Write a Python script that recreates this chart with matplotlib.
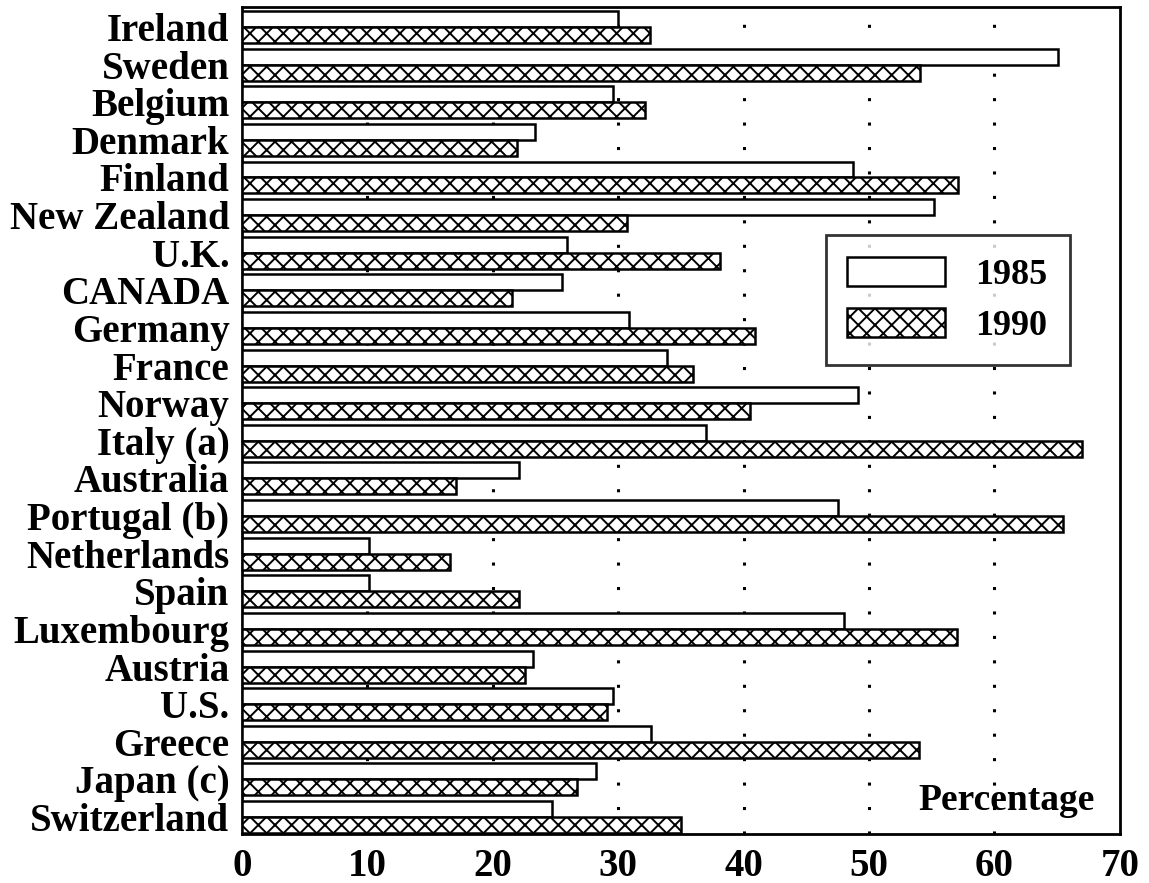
import numpy as np
import matplotlib
matplotlib.use('Agg')
import matplotlib.pyplot as plt

countries = ['Ireland', 'Sweden', 'Belgium', 'Denmark', 'Finland', 'New Zealand',
             'U.K.', 'CANADA', 'Germany', 'France', 'Norway', 'Italy (a)',
             'Australia', 'Portugal (b)', 'Netherlands', 'Spain', 'Luxembourg',
             'Austria', 'U.S.', 'Greece', 'Japan (c)', 'Switzerland']
y1985 = [30.0, 65.1, 29.6, 23.4, 48.7, 55.2, 25.9, 25.5, 30.9, 33.9, 49.1,
         37.0, 22.1, 47.5, 10.1, 10.1, 48.0, 23.2, 29.6, 32.6, 28.2, 24.7]
y1990 = [32.5, 54.1, 32.1, 21.9, 57.1, 30.7, 38.1, 21.5, 40.9, 36.0, 40.5,
         67.0, 17.1, 65.5, 16.6, 22.1, 57.0, 22.6, 29.1, 54.0, 26.7, 35.0]
series_labels = ['1985', '1990']
xticks = [0, 10, 20, 30, 40, 50, 60, 70]

plt.rcParams['font.family'] = ['Liberation Serif', 'DejaVu Serif']
plt.rcParams['font.weight'] = 'bold'
plt.rcParams['hatch.linewidth'] = 1.4

fig = plt.figure(figsize=(11.49, 8.83), dpi=100)
ax = fig.add_axes([0.2106, 0.0555, 0.764, 0.9365])

pos = np.arange(len(countries))
h = 0.425
b1 = ax.barh(pos - h / 2, y1985, height=h, color='white', edgecolor='black',
             linewidth=1.8, label=series_labels[0], zorder=3)
b2 = ax.barh(pos + h / 2, y1990, height=h, color='white', edgecolor='black',
             linewidth=1.8, hatch='xx', label=series_labels[1], zorder=3)

# dotted vertical grid
for g in xticks[1:-1]:
    ax.axvline(g, color='black', lw=2.2, ls=(0, (1, 7)), zorder=1)

ax.set_xlim(0, 70)
ax.set_ylim(len(countries) - 0.55, -0.53)
ax.set_yticks(pos)
ax.set_yticklabels(countries, fontsize=28, fontweight='bold')
ax.set_xticks(xticks)
ax.set_xticklabels([str(t) for t in xticks], fontsize=28, fontweight='bold')
ax.tick_params(axis='y', length=0, pad=9)
ax.tick_params(axis='x', length=0, pad=10)
for s in ax.spines.values():
    s.set_linewidth(2)

ax.text(68.0, 20.55, 'Percentage', fontsize=27, fontweight='bold',
        ha='right', va='center', zorder=4)

leg = ax.legend(handles=[b1, b2], loc='upper left', bbox_to_anchor=(0.665, 0.724),
                fontsize=26, frameon=True, fancybox=False, handlelength=2.7,
                handleheight=0.85, handletextpad=0.85, labelspacing=0.45,
                borderpad=0.6, borderaxespad=0)
leg.get_frame().set_edgecolor('black')
leg.get_frame().set_linewidth(2)

fig.savefig('out.png', dpi=100)
